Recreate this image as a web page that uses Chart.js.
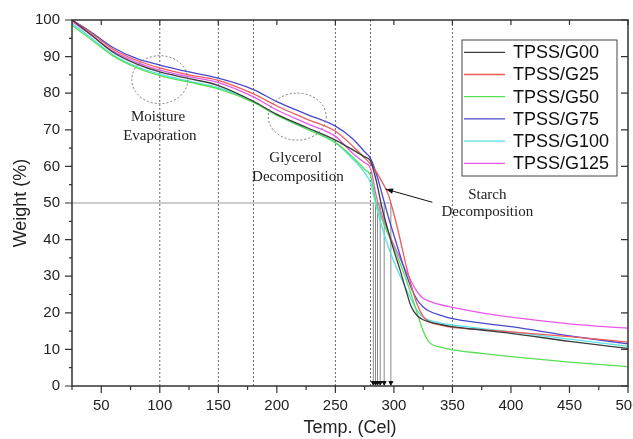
<!DOCTYPE html>
<html>
<head>
<meta charset="utf-8">
<script src="https://cdn.jsdelivr.net/npm/chart.js@4"></script>
<style>
  html, body { margin: 0; padding: 0; background: #fff; }
</style>
</head>
<body>
<canvas id="tga" width="633" height="439"></canvas>
<script>
// temperature grid (Cel) shared by all TGA curves
const temps = [25, 40, 60, 80, 100, 125, 150, 180, 200, 225, 250, 265, 275, 280, 285, 290, 295, 300, 305, 310, 315, 320, 325, 330, 340, 350, 375, 400, 450, 500];

// weight (%)
const g00  = [100, 96.3, 91.2, 88, 85.8, 84, 82.1, 77.8, 74.2, 70.7, 67.2, 64.5, 62.6, 61.5, 56, 48.5, 42.5, 37, 32, 26.5, 21.5, 19.2, 18.1, 17.5, 16.8, 16.2, 15.3, 14.4, 12.2, 10.3];
const g25  = [100, 96.8, 92, 89, 86.9, 85, 83.5, 79.8, 76.5, 73, 69.6, 65.5, 62.3, 60.7, 58.5, 55.7, 52.5, 47, 40.5, 33.5, 27.3, 22.2, 19, 17.6, 16.6, 16, 15.4, 14.8, 13.5, 12];
const g50  = [98.5, 95, 90.2, 87, 84.8, 83, 81.2, 77.5, 74, 70.3, 66.5, 62.5, 59.2, 57.5, 50, 45.5, 41.5, 37.8, 33.8, 29.5, 24.8, 19.8, 15, 12, 10.6, 9.9, 8.9, 8, 6.5, 5.3];
const g75  = [100, 97, 92.5, 89.5, 87.7, 85.8, 84.1, 81, 77.7, 74.3, 71, 67.5, 64, 62.2, 58, 52.3, 46.5, 41.2, 36, 31, 26.7, 23.5, 21.6, 20.5, 19.3, 18.4, 17.2, 16.2, 13.7, 11.5];
const g100 = [99, 95.5, 90.5, 87.3, 85.2, 83.3, 81.5, 77.6, 74, 70.3, 66.5, 62, 58.3, 55.5, 49, 43.2, 38.2, 34, 30.3, 26.8, 23.5, 20.6, 18.8, 18, 17.2, 16.7, 15.7, 14.8, 12.8, 10.9];
const g125 = [99.5, 96.2, 91.5, 88.5, 86.3, 84.5, 82.9, 79, 75.4, 71.8, 68.2, 63.5, 61, 59.5, 51.8, 46.5, 42.3, 38.5, 35, 31.6, 28.5, 25.7, 24, 23.2, 22.2, 21.5, 20, 18.8, 17, 15.8];

const seriesNames = ['TPSS/G00', 'TPSS/G25', 'TPSS/G50', 'TPSS/G75', 'TPSS/G100', 'TPSS/G125'];
const seriesValues = [g00, g25, g50, g75, g100, g125];
const seriesColors = ['#3c3c3c', '#f05a5a', '#55e055', '#4848cc', '#55e2ea', '#e858e8'];

// dotted guide temperatures and the 50% weight-loss temperatures
const guideTemps = [100, 150, 180, 250, 280, 350];
const halfTemps = [282.4, 284.3, 286, 288.3, 291.7, 297.4];
const halfWeight = 50;

Chart.defaults.font.family = '"Liberation Sans", Arial, sans-serif';
Chart.defaults.color = '#222';

const curves = seriesNames.map((name, i) => ({
    label: name,
    data: temps.map((t, k) => ({ x: t, y: seriesValues[i][k] })),
    borderColor: seriesColors[i],
    borderWidth: 1.3,
    pointRadius: 0,
    cubicInterpolationMode: 'monotone',
    inLegend: true,
    order: 1
}));

const guides = guideTemps.map(t => ({
    data: [{ x: t, y: 0 }, { x: t, y: 100 }],
    borderColor: '#666',
    borderWidth: 1,
    borderDash: [2, 2],
    pointRadius: 0,
    order: 5
}));

const drops = halfTemps.map(t => ({
    data: [{ x: t, y: 0 }, { x: t, y: halfWeight }],
    borderColor: '#8a8a8a',
    borderWidth: 1,
    pointRadius: 0,
    order: 4
}));

const halfLine = {
    data: [{ x: 25, y: halfWeight }, { x: Math.max(...halfTemps), y: halfWeight }],
    borderColor: '#999',
    borderWidth: 1,
    pointRadius: 0,
    order: 4
};

const marks = {
    data: halfTemps.map(t => ({ x: t, y: 0.9 })),
    showLine: false,
    pointStyle: 'triangle',
    rotation: 180,
    pointRadius: 2.3,
    pointBackgroundColor: '#111',
    pointBorderColor: '#111',
    order: 0
};

const decor = {
    id: 'decor',
    afterDatasetsDraw(chart) {
        const { ctx, chartArea: a, scales: { x, y } } = chart;
        ctx.save();

        // frame
        ctx.strokeStyle = '#333';
        ctx.lineWidth = 1.5;
        ctx.strokeRect(a.left, a.top, a.right - a.left, a.bottom - a.top);

        // ticks
        ctx.lineWidth = 1.2;
        ctx.beginPath();
        for (let v = 25; v <= 500; v += 25) {
            const px = x.getPixelForValue(v);
            const major = v % 50 === 0;
            ctx.moveTo(px, a.bottom);
            ctx.lineTo(px, a.bottom + (major ? 7 : 4));
            if (major) { ctx.moveTo(px, a.top); ctx.lineTo(px, a.top + 5); }
        }
        for (let v = 0; v <= 100; v += 5) {
            const py = y.getPixelForValue(v);
            const major = v % 10 === 0;
            ctx.moveTo(a.left, py);
            ctx.lineTo(a.left - (major ? 7 : 3), py);
            if (major) { ctx.moveTo(a.right, py); ctx.lineTo(a.right - 7, py); }
        }
        ctx.stroke();

        // dotted ellipses
        ctx.strokeStyle = '#777';
        ctx.lineWidth = 1;
        ctx.setLineDash([2, 2]);
        ctx.beginPath();
        ctx.ellipse(x.getPixelForValue(100), y.getPixelForValue(83.7), 28, 24, 0, 0, Math.PI * 2);
        ctx.stroke();
        ctx.beginPath();
        ctx.ellipse(x.getPixelForValue(217.4), y.getPixelForValue(73.6), 29, 23.5, 0, 0, Math.PI * 2);
        ctx.stroke();
        ctx.setLineDash([]);

        // annotations
        ctx.fillStyle = '#222';
        ctx.font = '15px "Liberation Serif", "Times New Roman", serif';
        ctx.textAlign = 'center';
        ctx.textBaseline = 'middle';
        ctx.fillText('Moisture', x.getPixelForValue(98.5), y.getPixelForValue(73.5));
        ctx.fillText('Evaporation', x.getPixelForValue(100), y.getPixelForValue(68.3));
        ctx.fillText('Glycerol', x.getPixelForValue(216), y.getPixelForValue(62.3));
        ctx.fillText('Decomposition', x.getPixelForValue(218), y.getPixelForValue(57.1));
        ctx.fillText('Starch', x.getPixelForValue(379.8), y.getPixelForValue(52.2));
        ctx.fillText('Decomposition', x.getPixelForValue(379.8), y.getPixelForValue(47.5));

        // arrow
        const x0 = x.getPixelForValue(332.9), y0 = y.getPixelForValue(50.2);
        const x1 = x.getPixelForValue(292.9), y1 = y.getPixelForValue(53.8);
        const ang = Math.atan2(y1 - y0, x1 - x0);
        ctx.strokeStyle = '#111';
        ctx.lineWidth = 1;
        ctx.beginPath();
        ctx.moveTo(x0, y0);
        ctx.lineTo(x1, y1);
        ctx.stroke();
        ctx.fillStyle = '#111';
        ctx.beginPath();
        ctx.moveTo(x1, y1);
        ctx.lineTo(x1 - 8 * Math.cos(ang - 0.35), y1 - 8 * Math.sin(ang - 0.35));
        ctx.lineTo(x1 - 8 * Math.cos(ang + 0.35), y1 - 8 * Math.sin(ang + 0.35));
        ctx.closePath();
        ctx.fill();

        // legend box
        const items = chart.data.datasets.filter(d => d.inLegend);
        const bx = 462, by = 40, bw = 155, bh = 136, row = 22.2;
        ctx.fillStyle = '#fff';
        ctx.fillRect(bx, by, bw, bh);
        ctx.strokeStyle = '#444';
        ctx.lineWidth = 1;
        ctx.strokeRect(bx, by, bw, bh);
        ctx.font = '18px "Liberation Sans", Arial, sans-serif';
        ctx.textAlign = 'left';
        items.forEach((d, i) => {
            const ry = by + 12.3 + i * row;
            ctx.strokeStyle = d.borderColor;
            ctx.lineWidth = 1.3;
            ctx.beginPath();
            ctx.moveTo(bx + 2, ry);
            ctx.lineTo(bx + 43, ry);
            ctx.stroke();
            ctx.fillStyle = '#111';
            ctx.fillText(d.label, bx + 51, ry + 1);
        });
        ctx.restore();
    }
};

new Chart(document.getElementById('tga'), {
    type: 'line',
    data: { datasets: [...curves, ...guides, ...drops, halfLine, marks] },
    options: {
        responsive: false,
        animation: false,
        layout: { padding: { top: 20, right: 1, left: 0, bottom: 0 } },
        plugins: { legend: { display: false }, tooltip: { enabled: false } },
        scales: {
            x: {
                type: 'linear',
                min: 25,
                max: 500,
                grid: { display: false, drawTicks: false },
                border: { display: false },
                ticks: { stepSize: 50, includeBounds: false, autoSkip: false, maxRotation: 0, padding: 11, font: { size: 15 } },
                title: { display: true, text: 'Temp. (Cel)', font: { size: 18 }, padding: { top: 0, bottom: 0 } },
                afterFit(s) { s.height = 53; s.paddingLeft = 0; s.paddingRight = 0; }
            },
            y: {
                min: 0,
                max: 100,
                grid: { display: false, drawTicks: false },
                border: { display: false },
                ticks: { stepSize: 10, padding: 12, font: { size: 15 } },
                title: { display: true, text: 'Weight (%)', font: { size: 18 }, padding: { top: 10, bottom: 0 } },
                afterFit(s) { s.width = 72; s.paddingTop = 0; s.paddingBottom = 0; }
            }
        }
    },
    plugins: [decor]
});
</script>
</body>
</html>
